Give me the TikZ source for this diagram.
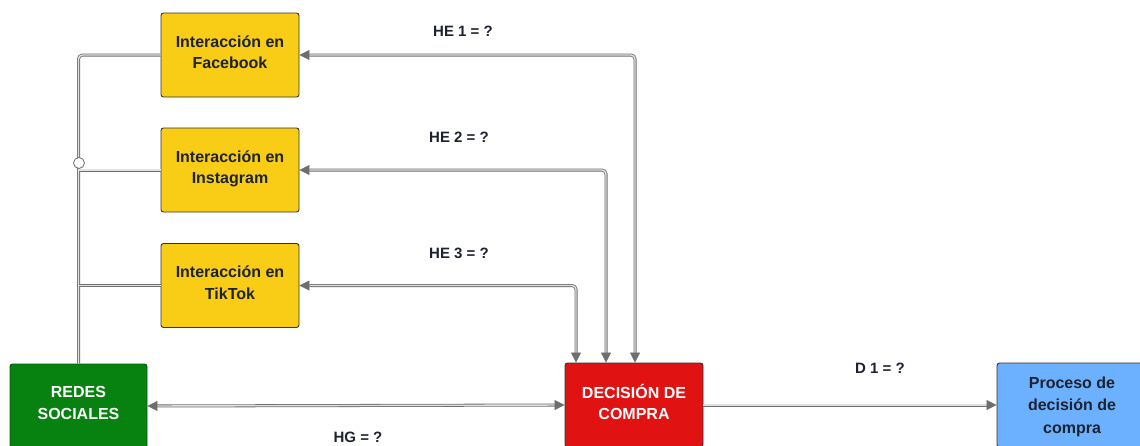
\documentclass[tikz,border=0pt]{standalone}
\usepackage{fontspec}
\setmainfont{Liberation Sans}
\usetikzlibrary{arrows.meta,calc}
\definecolor{ybox}{HTML}{F9CC15}
\definecolor{gbox}{HTML}{07810F}
\definecolor{rbox}{HTML}{E11212}
\definecolor{bbox}{HTML}{6CB1FF}
\definecolor{txt}{HTML}{1C2230}
\definecolor{lineout}{HTML}{6E6E6E}
\definecolor{linein}{HTML}{E2E2E2}
\tikzset{
  boxbase/.style={rectangle, rounded corners=2.5pt, draw=black!80, line width=0.9pt,
    minimum width=138pt, minimum height=84pt, align=center, text depth=6pt,
    font=\fontsize{16}{21.5}\selectfont\bfseries, inner sep=2pt},
  ybx/.style={boxbase, fill=ybox, text=txt},
  gbx/.style={boxbase, fill=gbox, text=white, draw=gbox!70!black},
  rbx/.style={boxbase, fill=rbox, text=white, draw=black!80},
  bbx/.style={boxbase, fill=bbox, text=txt, minimum width=150pt, text depth=0pt,
    font=\fontsize{16}{22.5}\selectfont\bfseries},
  conn/.style={draw=lineout, line width=0.8pt, double=linein, double distance=1.4pt,
    rounded corners=4pt},
  tip/.style={>={Triangle[length=10pt,width=10pt,fill=lineout,color=lineout]}},
  lbl/.style={font=\fontsize{15}{18}\selectfont\bfseries, text=txt, inner sep=1pt},
  hop/.style={circle, draw=lineout, fill=white, line width=0.8pt, minimum size=11pt, inner sep=0pt}
}
\begin{document}
\begin{tikzpicture}[x=1pt, y=-1pt, tip]
\useasboundingbox (0,0) rectangle (1140,445);
\node[ybx] (fb) at (230,55) {Interacción en\\Facebook};
\node[ybx] (ig) at (230,170) {Interacción en\\Instagram};
\node[ybx] (tt) at (230,285.5) {Interacción en\\TikTok};
\node[gbx, minimum width=137pt] (rs) at (78.5,406) {REDES\\SOCIALES};
\node[rbx] (dc) at (634,405) {DECISIÓN DE\\COMPRA};
\node[bbx] (pr) at (1072,405) {Proceso de\\decisión de\\compra};

\coordinate (d1) at ($(dc.north)+(1,0)$);
\coordinate (d2) at ($(dc.north)+(-28,0)$);
\coordinate (d3) at ($(dc.north)+(-58,0)$);

\draw[conn] (fb.west) -| (rs.north);
\draw[conn] (ig.west) -- (ig.west -| rs.north);
\draw[conn] (tt.west) -- (tt.west -| rs.north);
\node[hop] (jp) at (79,163) {};

\draw[conn, <->] (fb.east) -| (d1);
\draw[conn, <->] (ig.east) -| (d2);
\draw[conn, <->] (tt.east) -| (d3);
\draw[conn, <->] (rs.east) -- (dc.west);
\draw[conn, ->] (dc.east) -- (pr.west);

\node[lbl] (he1) at (463,31) {HE 1 = ?};
\node[lbl] (he2) at (459,137) {HE 2 = ?};
\node[lbl] (he3) at (459,253) {HE 3 = ?};
\node[lbl] (hg) at (358,437) {HG = ?};
\node[lbl] (dd) at (880,368) {D 1 = ?};
\end{tikzpicture}
\end{document}
